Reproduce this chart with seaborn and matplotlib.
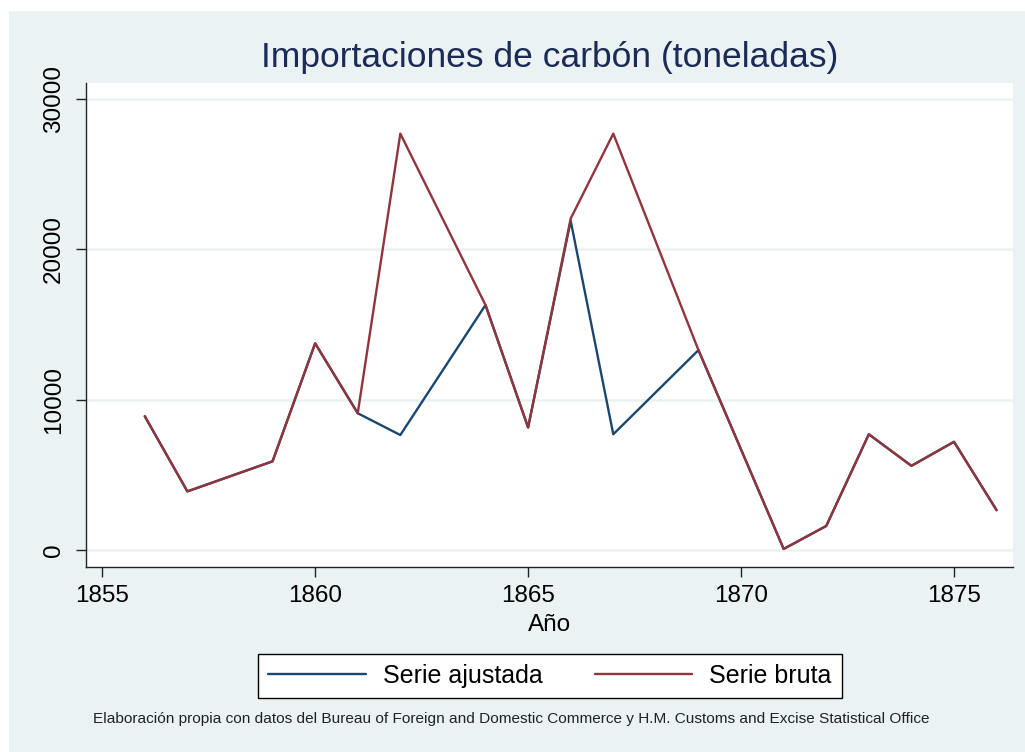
import matplotlib
matplotlib.use("Agg")
import matplotlib.pyplot as plt
from matplotlib.patches import Rectangle
import seaborn as sns
import pandas as pd

# ---- data ----
years_bruta = [1856, 1857, 1859, 1860, 1861, 1862, 1864, 1865, 1866, 1867, 1869,
               1871, 1872, 1873, 1874, 1875, 1876]
serie_bruta = [8900, 3900, 5900, 13750, 9100, 27700, 16300, 8150, 22050, 27700, 13300,
               70, 1600, 7700, 5600, 7200, 2650]
years_ajustada = years_bruta
serie_ajustada = [8900, 3900, 5900, 13750, 9100, 7650, 16300, 8150, 21900, 7700, 13300,
                  70, 1600, 7700, 5600, 7200, 2650]

series_names = ["Serie ajustada", "Serie bruta"]
x_ticks = [1855, 1860, 1865, 1870, 1875]
y_ticks = [0, 10000, 20000, 30000]

title = "Importaciones de carbón (toneladas)"
xlabel = "Año"
note = ("Elaboración propia con datos del Bureau of Foreign and Domestic Commerce "
        "y H.M. Customs and Excise Statistical Office")

df = pd.concat([
    pd.DataFrame({"Año": years_ajustada, "valor": serie_ajustada, "serie": series_names[0]}),
    pd.DataFrame({"Año": years_bruta, "valor": serie_bruta, "serie": series_names[1]}),
], ignore_index=True)

# ---- style ----
sns.set_theme(style="white")
plt.rcParams["font.family"] = ["Liberation Sans", "DejaVu Sans"]

BG = "#EAF2F3"
BLUE = "#1a476f"
RED = "#90353b"

fig = plt.figure(figsize=(10.25, 7.52), dpi=100, facecolor="white")
fig.patches.append(Rectangle((9 / 1025, 0), 1 - 9 / 1025, 1 - 11 / 752,
                             transform=fig.transFigure, facecolor=BG,
                             edgecolor="none", zorder=-10))

L, R, T, B = 86, 1013, 83, 567
ax = fig.add_axes([L / 1025, 1 - B / 752, (R - L) / 1025, (B - T) / 752])
ax.set_zorder(1)
ax.set_facecolor("white")

sns.lineplot(data=df, x="Año", y="valor", hue="serie", hue_order=series_names,
             palette=[BLUE, RED], linewidth=1.7, ax=ax, legend=False,
             estimator=None, sort=True)

ax.set_xlim(1854.62, 1876.385)
ax.set_ylim(-1130, 31070)
ax.set_xticks(x_ticks)
ax.set_yticks(y_ticks)
ax.set_yticklabels([str(v) for v in y_ticks], rotation=90, va="center")
ax.grid(axis="y", color=BG, linewidth=1.8)
ax.grid(axis="x", visible=False)
ax.set_axisbelow(True)

for s in ["top", "right"]:
    ax.spines[s].set_visible(False)
for s in ["left", "bottom"]:
    ax.spines[s].set_color("#222222")
    ax.spines[s].set_linewidth(1.0)

ax.tick_params(axis="both", direction="out", length=7, width=1.0, color="#222222",
               labelsize=17.5, labelcolor="black", bottom=True, left=True)
ax.tick_params(axis="x", pad=6)
ax.tick_params(axis="y", pad=8)

ax.set_xlabel(xlabel, fontsize=17.5, color="black", labelpad=5)
ax.set_ylabel("")

fig.text(550 / 1025, 1 - 57 / 752, title, ha="center", va="center",
         fontsize=25.5, color="#1c2b55")

handles = [plt.Line2D([], [], color=BLUE, linewidth=1.7),
           plt.Line2D([], [], color=RED, linewidth=1.7)]
leg = fig.legend(handles, series_names, loc="center", ncol=2,
                 bbox_to_anchor=(550 / 1025, 1 - 676 / 752),
                 fontsize=18, frameon=True, fancybox=False, edgecolor="black",
                 facecolor="white", handlelength=3.9, handletextpad=0.68,
                 columnspacing=2.1, borderpad=0.4, borderaxespad=0, framealpha=1)
leg.get_frame().set_linewidth(1.0)
for t in leg.get_texts():
    t.set_color("black")

fig.text(511 / 1025, 1 - 719 / 752, note, ha="center", va="center",
         fontsize=11.1, color="#222222")

fig.savefig("out.png", dpi=100, facecolor="white")
